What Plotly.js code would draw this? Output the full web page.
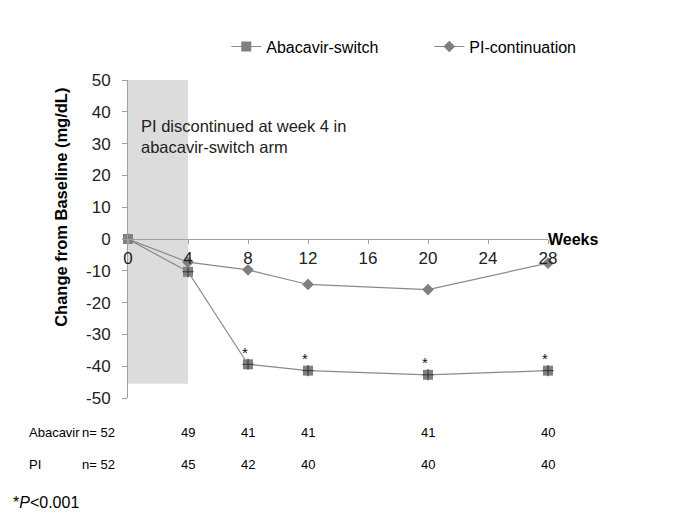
<!DOCTYPE html>
<html>
<head>
<meta charset="utf-8">
<script src="https://cdn.plot.ly/plotly-3.0.1.min.js"></script>
<style>html,body{margin:0;padding:0;background:#fff;}#chart{width:685px;height:513px;}</style>
</head>
<body>
<div id="chart"></div>
<script>
const weeks = [0, 4, 8, 12, 20, 28];
const abacavirSwitch = [0, -10.3, -39.4, -41.4, -42.7, -41.4];
const piContinuation = [0, -7.3, -9.7, -14.3, -15.9, -7.6];
const abacavirN = [52, 49, 41, 41, 41, 40];
const piN = [52, 45, 42, 40, 40, 40];
const sigWeeks = [8, 12, 20, 28];
const sigValues = [-39.4, -41.4, -42.7, -41.4];
const xTicks = [0, 4, 8, 12, 16, 20, 24, 28];
const yTicks = [-50, -40, -30, -20, -10, 0, 10, 20, 30, 40, 50];
const shadeWeeks = [0, 4];
const shadeRange = [-45.5, 50];

const FONT = 'Arial, "Liberation Sans", sans-serif';
const lineCol = '#8a8a8a';
const markCol = '#808080';

const traces = [
  {
    x: weeks, y: abacavirSwitch, name: 'Abacavir-switch', type: 'scatter', mode: 'lines+markers',
    line: {color: lineCol, width: 1.2},
    marker: {symbol: 'square', size: 10, color: markCol, line: {width: 0}},
    cliponaxis: false
  },
  {
    x: weeks.slice(1), y: abacavirSwitch.slice(1), type: 'scatter', mode: 'markers', showlegend: false, hoverinfo: 'skip',
    marker: {symbol: 'cross-thin-open', size: 8, color: '#333', line: {width: 1, color: '#333'}},
    cliponaxis: false
  },
  {
    x: weeks, y: piContinuation, name: 'PI-continuation', type: 'scatter', mode: 'lines+markers',
    line: {color: lineCol, width: 1.2},
    marker: {symbol: 'diamond', size: 9, color: markCol, line: {width: 0}},
    cliponaxis: false
  }
];

const annotations = [];
annotations.push({xref: 'x', yref: 'y', x: 28, y: 0, xanchor: 'left', yanchor: 'middle', xshift: -2,
  text: '<b>Weeks</b>', showarrow: false, font: {family: FONT, size: 16, color: '#000'}});
annotations.push({xref: 'paper', yref: 'paper', x: 0.027, y: 0.89, xanchor: 'left', yanchor: 'top', align: 'left',
  text: 'PI discontinued at week 4 in<br>abacavir-switch arm', showarrow: false,
  font: {family: FONT, size: 16.5, color: '#222'}});
sigWeeks.forEach((w, i) => {
  annotations.push({xref: 'x', yref: 'y', x: w, y: sigValues[i], yshift: 12, xshift: -3, text: '*', showarrow: false,
    font: {family: FONT, size: 15, color: '#111'}});
});
// y axis title as annotation
annotations.push({xref: 'paper', yref: 'paper', x: -0.158, y: 0.6, xanchor: 'center', yanchor: 'middle',
  text: '<b>Change from Baseline (mg/dL)</b>', textangle: -90, showarrow: false,
  font: {family: FONT, size: 16.5, color: '#000'}});
// n table
annotations.push({xref: 'paper', yref: 'paper', x: -0.24, y: -0.11, xanchor: 'left', yanchor: 'middle',
  text: 'Abacavir', showarrow: false, font: {family: FONT, size: 13, color: '#000'}});
annotations.push({xref: 'paper', yref: 'paper', x: -0.24, y: -0.21, xanchor: 'left', yanchor: 'middle',
  text: 'PI', showarrow: false, font: {family: FONT, size: 13, color: '#000'}});
weeks.forEach((w, i) => {
  const isFirst = i === 0;
  annotations.push({xref: isFirst ? 'paper' : 'x', yref: 'paper', x: isFirst ? -0.07 : w, y: -0.11,
    xanchor: 'center', yanchor: 'middle', text: (isFirst ? 'n= ' : '') + abacavirN[i], showarrow: false,
    font: {family: FONT, size: 13, color: '#000'}});
  annotations.push({xref: isFirst ? 'paper' : 'x', yref: 'paper', x: isFirst ? -0.07 : w, y: -0.21,
    xanchor: 'center', yanchor: 'middle', text: (isFirst ? 'n= ' : '') + piN[i], showarrow: false,
    font: {family: FONT, size: 13, color: '#000'}});
});
annotations.push({xref: 'paper', yref: 'paper', x: -0.278, y: -0.33, xanchor: 'left', yanchor: 'middle',
  text: '*<i>P</i><0.001', showarrow: false, font: {family: FONT, size: 16, color: '#000'}});

const layout = {
  width: 685, height: 513,
  margin: {l: 128, r: 137, t: 80, b: 115},
  paper_bgcolor: '#fff', plot_bgcolor: 'rgba(0,0,0,0)',
  font: {family: FONT, color: '#000'},
  showlegend: true,
  legend: {orientation: 'h', x: 0.234, y: 1.105, xanchor: 'left', yanchor: 'middle',
    font: {family: FONT, size: 16, color: '#000'}, bgcolor: 'rgba(0,0,0,0)', traceorder: 'normal',
    entrywidthmode: 'pixels', entrywidth: 158},
  xaxis: {
    range: [0, 28], tickvals: xTicks, ticktext: xTicks.map(String),
    anchor: 'free', position: 0.5, showline: true, linecolor: '#a0a0a0', linewidth: 1,
    ticks: 'outside', ticklen: 4, tickcolor: '#a0a0a0', showgrid: false, zeroline: false,
    tickfont: {family: FONT, size: 17, color: '#222'}
  },
  yaxis: {
    range: [-50, 50], tickvals: yTicks, ticktext: yTicks.map(String),
    showline: true, linecolor: '#a0a0a0', linewidth: 1, ticks: 'outside', ticklen: 5, tickcolor: '#a0a0a0',
    ticklabelstandoff: 8,
    showgrid: false, zeroline: false, tickfont: {family: FONT, size: 17, color: '#222'}
  },
  shapes: [{type: 'rect', xref: 'x', yref: 'y', x0: shadeWeeks[0], x1: shadeWeeks[1], y0: shadeRange[0], y1: shadeRange[1],
    fillcolor: '#dcdcdc', line: {width: 0}, layer: 'below'}],
  annotations: annotations
};

Plotly.newPlot('chart', traces, layout, {displayModeBar: false, staticPlot: true});
</script>
</body>
</html>
